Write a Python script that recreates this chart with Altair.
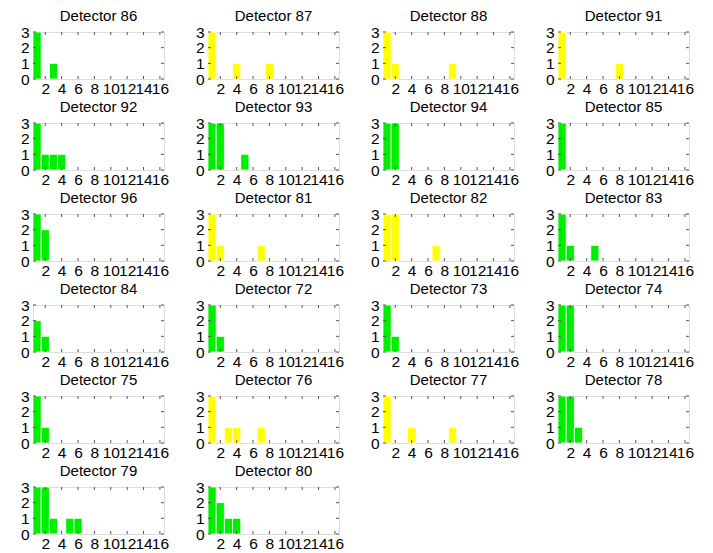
import altair as alt
import pandas as pd

detectors = [86, 87, 88, 91, 92, 93, 94, 85, 96, 81, 82, 83, 84, 72, 73, 74, 75, 76, 77, 78, 79, 80]
colors = ["green", "yellow", "yellow", "yellow", "green", "green", "green", "green",
          "green", "yellow", "yellow", "green", "green", "green", "green", "green",
          "green", "yellow", "yellow", "green", "green", "green"]
bins = list(range(1, 17))
counts = [
    [3, 0, 1, 0, 0, 0, 0, 0, 0, 0, 0, 0, 0, 0, 0, 0],  # 86
    [3, 0, 0, 1, 0, 0, 0, 1, 0, 0, 0, 0, 0, 0, 0, 0],  # 87
    [3, 1, 0, 0, 0, 0, 0, 0, 1, 0, 0, 0, 0, 0, 0, 0],  # 88
    [3, 0, 0, 0, 0, 0, 0, 1, 0, 0, 0, 0, 0, 0, 0, 0],  # 91
    [3, 1, 1, 1, 0, 0, 0, 0, 0, 0, 0, 0, 0, 0, 0, 0],  # 92
    [3, 3, 0, 0, 1, 0, 0, 0, 0, 0, 0, 0, 0, 0, 0, 0],  # 93
    [3, 3, 0, 0, 0, 0, 0, 0, 0, 0, 0, 0, 0, 0, 0, 0],  # 94
    [3, 0, 0, 0, 0, 0, 0, 0, 0, 0, 0, 0, 0, 0, 0, 0],  # 85
    [3, 2, 0, 0, 0, 0, 0, 0, 0, 0, 0, 0, 0, 0, 0, 0],  # 96
    [3, 1, 0, 0, 0, 0, 1, 0, 0, 0, 0, 0, 0, 0, 0, 0],  # 81
    [3, 3, 0, 0, 0, 0, 1, 0, 0, 0, 0, 0, 0, 0, 0, 0],  # 82
    [3, 1, 0, 0, 1, 0, 0, 0, 0, 0, 0, 0, 0, 0, 0, 0],  # 83
    [2, 1, 0, 0, 0, 0, 0, 0, 0, 0, 0, 0, 0, 0, 0, 0],  # 84
    [3, 1, 0, 0, 0, 0, 0, 0, 0, 0, 0, 0, 0, 0, 0, 0],  # 72
    [3, 1, 0, 0, 0, 0, 0, 0, 0, 0, 0, 0, 0, 0, 0, 0],  # 73
    [3, 3, 0, 0, 0, 0, 0, 0, 0, 0, 0, 0, 0, 0, 0, 0],  # 74
    [3, 1, 0, 0, 0, 0, 0, 0, 0, 0, 0, 0, 0, 0, 0, 0],  # 75
    [3, 0, 1, 1, 0, 0, 1, 0, 0, 0, 0, 0, 0, 0, 0, 0],  # 76
    [3, 0, 0, 1, 0, 0, 0, 0, 1, 0, 0, 0, 0, 0, 0, 0],  # 77
    [3, 3, 1, 0, 0, 0, 0, 0, 0, 0, 0, 0, 0, 0, 0, 0],  # 78
    [3, 3, 1, 0, 1, 1, 0, 0, 0, 0, 0, 0, 0, 0, 0, 0],  # 79
    [3, 2, 1, 1, 0, 0, 0, 0, 0, 0, 0, 0, 0, 0, 0, 0],  # 80
]
x_ticks = [2, 4, 6, 8, 10, 12, 14, 16]
y_ticks = [0, 1, 2, 3]

color_map = {"green": "#00ee00", "yellow": "#ffff00"}
FONT = "Liberation Sans"
W, H = 131, 47
FS = 15.5
TFS = 15

xscale = alt.Scale(domain=[0.5, 16.5], nice=False, zero=False)
yscale = alt.Scale(domain=[0, 3], nice=False)
x_axis = alt.Axis(values=x_ticks, title=None, grid=False, ticks=False,
                  domain=False, labelFontSize=FS, labelFont=FONT,
                  labelColor="black", labelPadding=2, labelOverlap=False,
                  labelFlush=False, labelBound=False)
y_axis = alt.Axis(values=y_ticks, title=None, grid=False, ticks=False,
                  domain=False, labelFontSize=FS, labelFont=FONT,
                  labelColor="black", labelPadding=4, labelOverlap=False,
                  labelFlush=False, labelBound=False)


def panel(det, col, cnt):
    df = pd.DataFrame({"bin": bins, "count": cnt})
    df = df[df["count"] > 0]
    bars = alt.Chart(df).transform_calculate(
        x0="datum.bin - 0.5", x1="datum.bin + 0.5"
    ).mark_bar(color=color_map[col], stroke="white", strokeWidth=0.8).encode(
        x=alt.X("x0:Q", scale=xscale, axis=x_axis),
        x2="x1:Q",
        y=alt.Y("count:Q", scale=yscale, axis=y_axis),
        y2=alt.datum(0),
    )
    xt = pd.DataFrame({"t": x_ticks})
    yt = pd.DataFrame({"t": y_ticks})
    tick_style = dict(color="#555555", strokeWidth=1)
    xb = alt.Chart(xt).mark_rule(**tick_style).encode(
        x=alt.X("t:Q", scale=xscale, axis=x_axis), y=alt.value(H), y2=alt.value(H - 3))
    xtop = alt.Chart(xt).mark_rule(**tick_style).encode(
        x=alt.X("t:Q", scale=xscale, axis=x_axis), y=alt.value(0), y2=alt.value(3))
    yl = alt.Chart(yt).mark_rule(**tick_style).encode(
        y=alt.Y("t:Q", scale=yscale, axis=y_axis), x=alt.value(0), x2=alt.value(3))
    yr = alt.Chart(yt).mark_rule(**tick_style).encode(
        y=alt.Y("t:Q", scale=yscale, axis=y_axis), x=alt.value(W - 3), x2=alt.value(W))
    return alt.layer(bars, xb, xtop, yl, yr).properties(
        width=W, height=H,
        title=alt.TitleParams(f"Detector {det}", fontSize=TFS, fontWeight="normal",
                              font=FONT, color="black", offset=1, anchor="middle"),
    )


panels = [panel(d, c, n) for d, c, n in zip(detectors, colors, counts)]
rows = [alt.hconcat(*panels[i:i + 4], spacing=24) for i in range(0, len(panels), 4)]
chart = alt.vconcat(*rows, spacing=2).properties(
    padding={"left": 19, "top": 8, "right": 5, "bottom": 0}
).configure_view(stroke="#333333", strokeWidth=1).configure(background="white")

chart.save("out.html", embed_options={"renderer": "svg", "actions": False})
